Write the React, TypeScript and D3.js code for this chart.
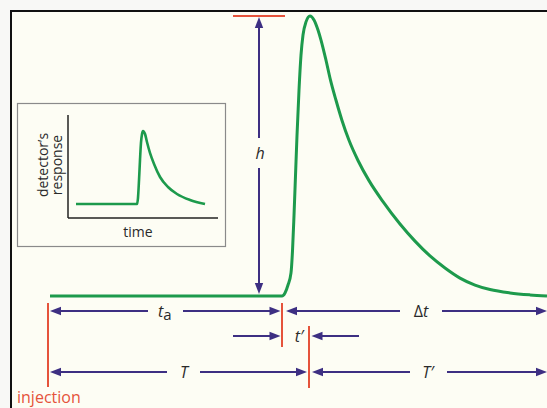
import React from "react";
import * as d3 from "d3";

// Main chromatogram peak (time units, response %)
const mainTime = [0.08, 9.36, 9.48, 9.6, 9.72, 9.78, 9.84, 9.9, 9.96, 10.04, 10.12, 10.2, 10.32, 10.48, 10.64, 10.8, 10.92, 11.12, 11.3, 11.52, 11.76, 12.04, 12.4, 12.84, 13.4, 14.08, 14.68, 15.28, 15.88, 16.48, 17.08, 17.68, 18.48, 19.28, 19.96];
const mainResp = [0, 0, 1.08, 3.94, 8.24, 16.1, 28.7, 43.0, 57.3, 73.5, 86.0, 93.2, 97.9, 100, 98.6, 95.0, 91.4, 84.2, 77.1, 69.9, 62.7, 55.6, 48.4, 41.2, 33.7, 25.7, 19.6, 14.3, 10.0, 6.4, 3.9, 2.3, 1.1, 0.4, 0];

// Inset peak
const insetTime = [1.07, 9.2, 9.33, 9.47, 9.6, 9.73, 9.87, 10, 10.27, 10.53, 10.93, 11.47, 12.27, 13.33, 14.53, 16.27, 18.27];
const insetResp = [0, 0, 8.2, 32.9, 60.3, 83.6, 95.9, 100, 95.9, 84.9, 69.9, 54.8, 37.0, 23.3, 13.7, 5.5, 0];

// Markers (time units)
const injectionT = 0;
const peakStartT = 9.4;
const peakMaxT = 10.44;
const endT = 20;
const hArrowT = 8.44;
const hTickRange = [7.4, 9.48];
const tPrimeArrows = [7.4, 12.44];

const W = 547, H = 408;
const BG = "#fdfdf4";
const GREEN = "#1d9a4c";
const NAVY = "#3d2f82";
const RED = "#e5533b";
const INK = "#2a2a2a";

const x = d3.scaleLinear().domain([0, 20]).range([48, 548]);
const y = d3.scaleLinear().domain([0, 100]).range([296, 16]);
const xi = d3.scaleLinear().domain([0, 20]).range([68, 218]);
const yi = d3.scaleLinear().domain([0, 100]).range([204, 131]);

const mainLine = d3.line<number>().x((_, i) => x(mainTime[i])).y((d) => y(d)).curve(d3.curveMonotoneX);
const insetLine = d3.line<number>().x((_, i) => xi(insetTime[i])).y((d) => yi(d)).curve(d3.curveMonotoneX);

const FONT = "'Open Sans', 'Noto Sans', sans-serif";

function HArrow({ x1, x2, yy, left, right }: { x1: number; x2: number; yy: number; left?: boolean; right?: boolean }) {
  const L = 11, hw = 4.2;
  return (
    <g>
      <line x1={left ? x1 + L - 1 : x1} x2={right ? x2 - L + 1 : x2} y1={yy} y2={yy} stroke={NAVY} strokeWidth={2} />
      {left && <path d={`M${x1},${yy} L${x1 + L},${yy - hw} L${x1 + L},${yy + hw} Z`} fill={NAVY} />}
      {right && <path d={`M${x2},${yy} L${x2 - L},${yy - hw} L${x2 - L},${yy + hw} Z`} fill={NAVY} />}
    </g>
  );
}

function Gap({ cx, cy, hw, hh }: { cx: number; cy: number; hw: number; hh: number }) {
  return <rect x={cx - hw} y={cy - hh} width={hw * 2} height={hh * 2} fill={BG} />;
}

export default function App() {
  const row1 = 311, row2 = 336, row3 = 372;
  const labelStyle = { fontFamily: FONT, fontSize: 16, fill: INK } as const;
  return (
    <svg width={W} height={H} style={{ position: "fixed", left: 0, top: 0 }}>
      <rect x={0} y={0} width={W} height={H} fill="#f8f8f6" />
      <rect x={11} y={11} width={W} height={H} fill={BG} stroke="#111" strokeWidth={2} />

      {/* inset */}
      <rect x={17.5} y={103.5} width={208} height={143} fill={BG} stroke="#8a8a8a" strokeWidth={1.2} />
      <line x1={68} x2={68} y1={115} y2={218} stroke="#222" strokeWidth={1.5} />
      <line x1={68} x2={218} y1={218} y2={218} stroke="#222" strokeWidth={1.5} />
      <path d={insetLine(insetResp) || ""} fill="none" stroke={GREEN} strokeWidth={2.6} strokeLinejoin="round" />
      <text x={138} y={237} textAnchor="middle" style={{ fontFamily: FONT, fontSize: 14, fill: INK }}>time</text>
      <text transform="translate(48,165) rotate(-90)" textAnchor="middle" style={{ fontFamily: FONT, fontSize: 14, fill: INK }}>detector’s</text>
      <text transform="translate(62,165) rotate(-90)" textAnchor="middle" style={{ fontFamily: FONT, fontSize: 14, fill: INK }}>response</text>

      {/* main peak */}
      <path d={mainLine(mainResp) || ""} fill="none" stroke={GREEN} strokeWidth={3} strokeLinejoin="round" />

      {/* h */}
      <line x1={x(hTickRange[0])} x2={x(hTickRange[1])} y1={y(100)} y2={y(100)} stroke={RED} strokeWidth={2} />
      <line x1={x(hArrowT)} x2={x(hArrowT)} y1={y(100) + 10} y2={y(0) - 10} stroke={NAVY} strokeWidth={2} />
      <path d={`M${x(hArrowT)},${y(100) + 1} l-4.2,11 l8.4,0 Z`} fill={NAVY} />
      <path d={`M${x(hArrowT)},${y(0) - 2} l-4.2,-11 l8.4,0 Z`} fill={NAVY} />
      <Gap cx={x(hArrowT)} cy={153} hw={6} hh={15} />
      <text x={x(hArrowT) + 1} y={159} textAnchor="middle" style={{ ...labelStyle, fontStyle: "italic" }}>h</text>

      {/* red markers */}
      <line x1={x(injectionT)} x2={x(injectionT)} y1={303} y2={387} stroke={RED} strokeWidth={2} />
      <line x1={x(peakStartT) - 1} x2={x(peakStartT) - 1} y1={303} y2={347} stroke={RED} strokeWidth={2} />
      <line x1={x(peakMaxT)} x2={x(peakMaxT)} y1={326} y2={388} stroke={RED} strokeWidth={2} />

      {/* row 1 */}
      <HArrow x1={x(injectionT) + 2} x2={x(peakStartT) - 2.5} yy={row1} left right />
      <Gap cx={165.5} cy={row1} hw={17.5} hh={6} />
      <text x={158} y={317} style={{ ...labelStyle, fontStyle: "italic" }}>t<tspan dy={3} style={{ fontStyle: "normal", fontSize: 15 }}>a</tspan></text>
      <HArrow x1={x(peakStartT) + 3} x2={x(endT) - 1} yy={row1} left right />
      <Gap cx={421} cy={row1} hw={21} hh={6} />
      <text x={421} y={317} textAnchor="middle" style={labelStyle}>Δ<tspan style={{ fontStyle: "italic" }}>t</tspan></text>

      {/* row 2 */}
      <HArrow x1={x(tPrimeArrows[0])} x2={x(peakStartT) - 2.5} yy={row2} right />
      <HArrow x1={x(peakMaxT) + 2.5} x2={x(tPrimeArrows[1])} yy={row2} left />
      <text x={299} y={342} textAnchor="middle" style={{ ...labelStyle, fontStyle: "italic" }}>t′</text>

      {/* row 3 */}
      <HArrow x1={x(injectionT) + 2} x2={x(peakMaxT) - 2} yy={row3} left right />
      <Gap cx={183.5} cy={row3} hw={16.5} hh={6} />
      <text x={184} y={378} textAnchor="middle" style={{ ...labelStyle, fontStyle: "italic" }}>T</text>
      <HArrow x1={x(peakMaxT) + 3} x2={x(endT) - 1} yy={row3} left right />
      <Gap cx={428.5} cy={row3} hw={18.5} hh={6} />
      <text x={428} y={378} textAnchor="middle" style={{ ...labelStyle, fontStyle: "italic" }}>T′</text>

      <text x={17} y={403} style={{ fontFamily: FONT, fontSize: 16, fill: RED }}>injection</text>
    </svg>
  );
}
